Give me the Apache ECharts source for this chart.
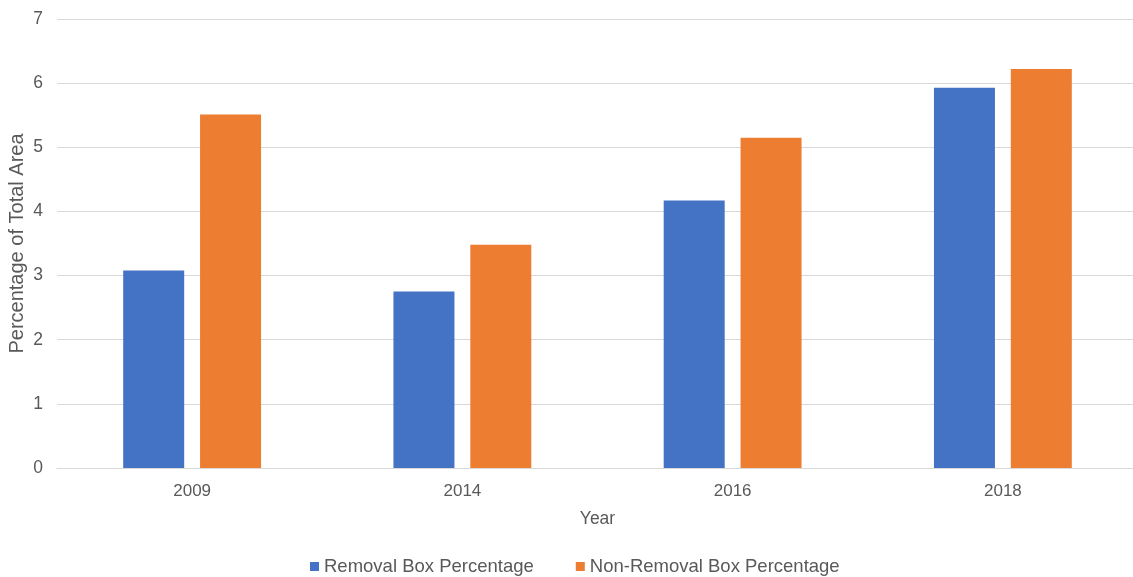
<!DOCTYPE html>
<html>
<head>
<meta charset="utf-8">
<script src="https://cdn.jsdelivr.net/npm/echarts@6/dist/echarts.min.js"></script>
<style>
  html, body { margin: 0; padding: 0; background: #ffffff; }
  #chart { width: 1133px; height: 577px; }
</style>
</head>
<body>
<div id="chart"></div>
<script>
// Survey years and box-area shares (% of total area)
const years = ['2009', '2014', '2016', '2018'];
const removalPct = [3.08, 2.75, 4.17, 5.93];
const nonRemovalPct = [5.51, 3.48, 5.15, 6.22];
const yTicks = { min: 0, max: 7, interval: 1 };

const textColor = '#595959';
const fontFamily = '"Liberation Sans", Arial, sans-serif';

const chart = echarts.init(document.getElementById('chart'), null, { renderer: 'canvas' });
chart.setOption({
  animation: false,
  textStyle: { fontFamily: fontFamily },
  // plot area runs slightly past the right edge of the canvas
  grid: {
    left: 57, top: 19, width: 1081, bottom: 109,
    containLabel: false,
    outerBoundsMode: 'none'
  },
  legend: {
    top: 552,
    left: 305,
    itemWidth: 9,
    itemHeight: 9,
    itemGap: 42,
    icon: 'rect',
    textStyle: { color: textColor, fontSize: 18.5, fontFamily: fontFamily },
    data: ['Removal Box Percentage', 'Non-Removal Box Percentage']
  },
  xAxis: {
    type: 'category',
    data: years,
    name: 'Year',
    nameLocation: 'middle',
    nameGap: 42,
    nameMoveOverlap: false,
    nameTextStyle: { color: textColor, fontSize: 17.5 },
    axisLine: { lineStyle: { color: '#d9d9d9', width: 1 } },
    axisTick: { show: false },
    axisLabel: { color: textColor, fontSize: 17, margin: 15 }
  },
  yAxis: {
    type: 'value',
    min: yTicks.min,
    max: yTicks.max,
    interval: yTicks.interval,
    name: 'Percentage of Total Area',
    nameLocation: 'middle',
    nameGap: 30,
    nameMoveOverlap: false,
    nameTextStyle: { color: textColor, fontSize: 20 },
    axisLine: { show: false },
    axisTick: { show: false },
    axisLabel: { color: textColor, fontSize: 17.5, margin: 14 },
    splitLine: { lineStyle: { color: '#d9d9d9', width: 1 } }
  },
  series: [
    {
      name: 'Removal Box Percentage',
      type: 'bar',
      data: removalPct,
      barWidth: 61,
      barGap: '26%',
      itemStyle: { color: '#4472C4' }
    },
    {
      name: 'Non-Removal Box Percentage',
      type: 'bar',
      data: nonRemovalPct,
      barWidth: 61,
      barGap: '26%',
      itemStyle: { color: '#ED7D31' }
    }
  ]
});
</script>
</body>
</html>
